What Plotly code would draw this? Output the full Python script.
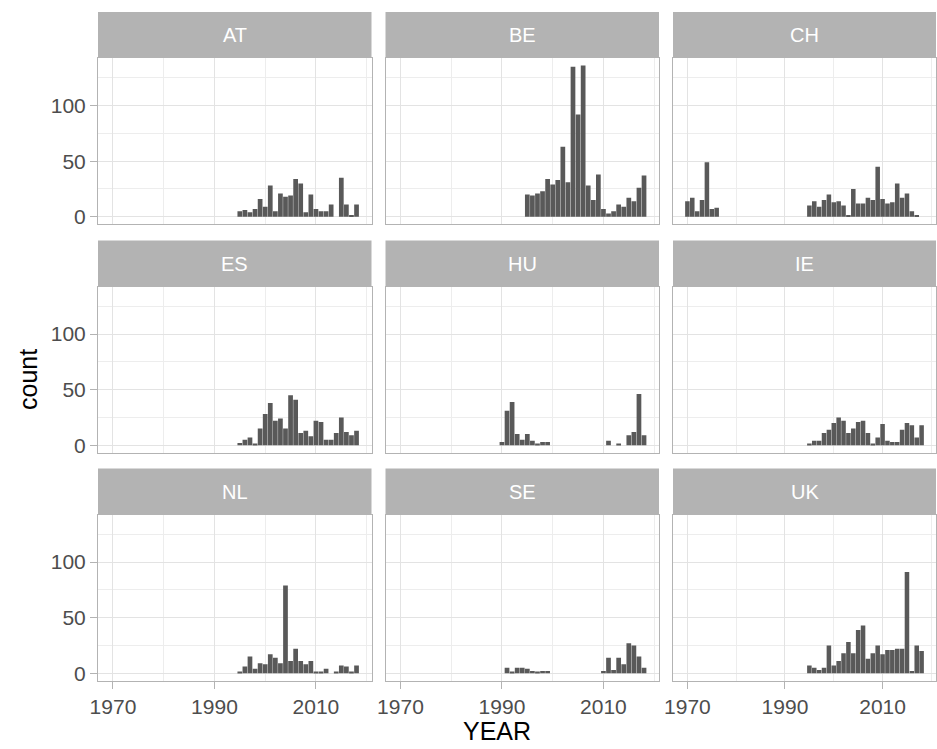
import plotly.graph_objects as go

W, H = 937, 749

COUNTRIES = ["AT", "BE", "CH", "ES", "HU", "IE", "NL", "SE", "UK"]

YEARS_MODERN = list(range(1995, 2019))

AT_YEARS = YEARS_MODERN
AT_COUNTS = [5, 6, 4, 7, 16, 9, 28, 5, 21, 18, 19, 34, 30, 4, 20, 7, 5, 5, 11, 0, 35, 11, 1, 11]

BE_YEARS = YEARS_MODERN
BE_COUNTS = [20, 19, 21, 23, 34, 29, 33, 63, 31, 135, 92, 136, 28, 15, 38, 7, 3, 5, 11, 9, 17, 14, 26, 37]

CH_YEARS = list(range(1970, 1977)) + list(range(1995, 2018))
CH_COUNTS = [14, 17, 5, 15, 49, 7, 8,
             10, 14, 9, 15, 20, 13, 14, 10, 1, 25, 12, 12, 17, 15, 45, 16, 12, 13, 30, 17, 21, 5, 1]

ES_YEARS = YEARS_MODERN
ES_COUNTS = [2, 5, 7, 1, 15, 28, 38, 22, 24, 15, 45, 41, 11, 13, 8, 22, 21, 5, 5, 11, 25, 12, 9, 13]

HU_YEARS = list(range(1990, 2000)) + list(range(2011, 2019))
HU_COUNTS = [3, 31, 39, 10, 5, 10, 4, 1, 3, 3,
             4, 0, 1, 0, 9, 12, 46, 9]

IE_YEARS = YEARS_MODERN
IE_COUNTS = [1, 4, 4, 11, 14, 20, 25, 22, 11, 15, 21, 22, 11, 1, 7, 19, 4, 3, 3, 14, 20, 18, 7, 18]

NL_YEARS = YEARS_MODERN
NL_COUNTS = [1, 6, 15, 4, 9, 8, 17, 14, 9, 79, 11, 22, 11, 8, 11, 1, 1, 4, 0, 1, 7, 6, 1, 7]

SE_YEARS = list(range(1991, 2000)) + list(range(2010, 2019))
SE_COUNTS = [5, 1, 5, 5, 4, 2, 1, 2, 2,
             2, 14, 3, 14, 8, 27, 25, 15, 5]

UK_YEARS = YEARS_MODERN
UK_COUNTS = [7, 5, 3, 5, 25, 7, 11, 18, 28, 18, 39, 43, 13, 18, 25, 17, 21, 21, 22, 22, 91, 2, 25, 20]

X_TICKS = [1970, 1990, 2010]
X_MINOR = [1980, 2000, 2020]
Y_TICKS = [0, 50, 100]
Y_MINOR = [25, 75, 125]

SERIES = {
    "AT": (AT_YEARS, AT_COUNTS), "BE": (BE_YEARS, BE_COUNTS), "CH": (CH_YEARS, CH_COUNTS),
    "ES": (ES_YEARS, ES_COUNTS), "HU": (HU_YEARS, HU_COUNTS), "IE": (IE_YEARS, IE_COUNTS),
    "NL": (NL_YEARS, NL_COUNTS), "SE": (SE_YEARS, SE_COUNTS), "UK": (UK_YEARS, UK_COUNTS),
}

# layout geometry (pixels)
COL_X0 = [98.0, 385.5, 673.0]
COL_X1 = [371.5, 659.0, 936.0]
ROW_TOP = [58.0, 286.5, 514.5]
PANEL_H = 166.3
STRIP_H = 46.0

X_RANGE = [1967.05, 2020.95]
Y_RANGE = [-6.8, 142.8]

FONT = "Liberation Sans, Arial, sans-serif"
GRID = "#E3E3E3"
BORDER = "#B3B3B3"
TICK_COL = "#4D4D4D"

fig = go.Figure()
layout = dict(
    width=W, height=H, margin=dict(l=0, r=0, t=0, b=0, autoexpand=False),
    paper_bgcolor="white", plot_bgcolor="white", showlegend=False,
    bargap=0.07, font=dict(family=FONT),
)
shapes = []
annotations = []

for i, c in enumerate(COUNTRIES):
    r, k = divmod(i, 3)
    xs, ys = SERIES[c]
    sfx = "" if i == 0 else str(i + 1)
    fig.add_trace(go.Bar(x=xs, y=ys, width=0.93, marker=dict(color="#595959", line=dict(width=0)),
                         xaxis="x" + sfx, yaxis="y" + sfx, hoverinfo="x+y"))
    x0, x1 = COL_X0[k], COL_X1[k]
    top = ROW_TOP[r]
    bot = top + PANEL_H
    xd = [x0 / W, min(x1 / W, 1.0)]
    yd = [1 - bot / H, 1 - top / H]
    layout["xaxis" + sfx] = dict(
        domain=xd, anchor="y" + sfx, range=X_RANGE, tickvals=X_TICKS, automargin=False,
        showticklabels=(r == 2), ticks="outside" if r == 2 else "", ticklen=7, tickwidth=1.2,
        tickcolor=BORDER, tickfont=dict(size=21, color=TICK_COL, family=FONT),
        showgrid=True, gridcolor=GRID, gridwidth=1.2, zeroline=False,
        showline=True, mirror=True, linecolor=BORDER, linewidth=1,
        minor=dict(tickvals=X_MINOR, showgrid=True, gridcolor="#EDEDED", gridwidth=0.8, ticks=""),
        fixedrange=True,
    )
    layout["yaxis" + sfx] = dict(
        domain=yd, anchor="x" + sfx, range=Y_RANGE, tickvals=Y_TICKS, automargin=False,
        showticklabels=(k == 0), ticks="outside" if k == 0 else "", ticklen=7, tickwidth=1.2,
        tickcolor=BORDER, tickfont=dict(size=21, color=TICK_COL, family=FONT),
        showgrid=True, gridcolor=GRID, gridwidth=1.2, zeroline=False,
        showline=True, mirror=True, linecolor=BORDER, linewidth=1,
        minor=dict(tickvals=Y_MINOR, showgrid=True, gridcolor="#EDEDED", gridwidth=0.8, ticks=""),
        fixedrange=True,
    )
    # strip
    shapes.append(dict(type="rect", xref="paper", yref="paper",
                       x0=xd[0], x1=xd[1], y0=1 - top / H, y1=1 - (top - STRIP_H) / H,
                       fillcolor="#B3B3B3", line=dict(width=0), layer="above"))
    annotations.append(dict(text=c, xref="paper", yref="paper",
                            x=(xd[0] + xd[1]) / 2, y=1 - (top - STRIP_H / 2) / H,
                            xanchor="center", yanchor="middle", showarrow=False,
                            font=dict(size=20, color="white", family=FONT)))

annotations.append(dict(text="count", xref="paper", yref="paper", x=28 / W, y=1 - 380 / H,
                        textangle=-90, xanchor="center", yanchor="middle", showarrow=False,
                        font=dict(size=25, color="black", family=FONT)))
annotations.append(dict(text="YEAR", xref="paper", yref="paper", x=497 / W, y=1 - 731 / H,
                        xanchor="center", yanchor="middle", showarrow=False,
                        font=dict(size=25, color="black", family=FONT)))

layout["shapes"] = shapes
layout["annotations"] = annotations
fig.update_layout(**layout)
fig.write_html(
    "out.html",
    config={"displayModeBar": False},
    post_script="document.body.style.margin='0';document.body.style.padding='0';"
                "document.body.style.overflow='hidden';",
)
